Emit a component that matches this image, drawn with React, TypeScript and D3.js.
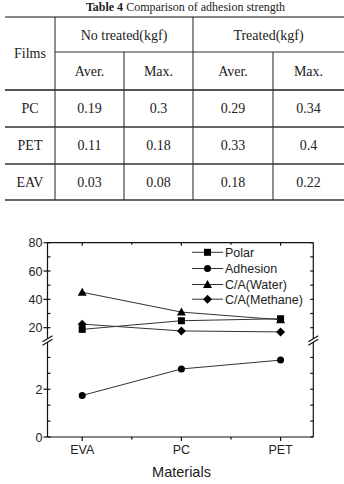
import React from 'react';
import * as d3 from 'd3';

// table data
const films = ['PC', 'PET', 'EAV'];
const groups = ['No treated(kgf)', 'Treated(kgf)'];
const subHeads = ['Aver.', 'Max.', 'Aver.', 'Max.'];
const tableValues = [
  ['0.19', '0.3', '0.29', '0.34'],
  ['0.11', '0.18', '0.33', '0.4'],
  ['0.03', '0.08', '0.18', '0.22'],
];

// chart data
const materials = ['EVA', 'PC', 'PET'];
const polar = [18.8, 24.9, 26.3];
const adhesion = [1.74, 2.85, 3.22];
const caWater = [45, 31, 25.6];
const caMethane = [22.5, 17.7, 17];
const upperTicks = [20, 40, 60, 80];
const lowerTicks = [0, 2];

const serif = '"Liberation Serif", "Times New Roman", serif';
const sans = '"Liberation Sans", Arial, sans-serif';
const lineCol = '#333';

function Marker({ type, x, y }: { type: string; x: number; y: number }) {
  if (type === 'square') return <rect x={x - 3.5} y={y - 3.5} width={7} height={7} fill="#000" />;
  if (type === 'circle') return <circle cx={x} cy={y} r={3.5} fill="#000" />;
  if (type === 'triangle') return <path d={`M${x},${y - 4.5}L${x + 4.5},${y + 3.5}L${x - 4.5},${y + 3.5}Z`} fill="#000" />;
  return <path d={`M${x},${y - 4.5}L${x + 4.5},${y}L${x},${y + 4.5}L${x - 4.5},${y}Z`} fill="#000" />;
}

function Table() {
  const colX = [5, 55, 124, 193, 273, 344];
  const rowY = [17, 52, 90, 127, 164, 200];
  const fs = 14;
  const cx = (i: number) => (colX[i] + colX[i + 1]) / 2;
  return (
    <g fontFamily={serif} fontSize={fs} fill="#222">
      <text x={185.5} y={11} fontSize={12} textAnchor="middle">
        <tspan fontWeight="bold">Table 4</tspan> Comparison of adhesion strength
      </text>
      <line x1={5} x2={344} y1={rowY[0]} y2={rowY[0]} stroke="#888" strokeWidth={2} />
      <line x1={colX[1]} x2={344} y1={rowY[1]} y2={rowY[1]} stroke={lineCol} strokeWidth={1.2} />
      {rowY.slice(2).map((y, i) => (
        <line key={i} x1={5} x2={344} y1={y} y2={y} stroke={i === 0 ? '#555' : lineCol} strokeWidth={i === 0 ? 1.8 : 1.4} />
      ))}
      {[1, 3].map(i => (
        <line key={i} x1={colX[i]} x2={colX[i]} y1={rowY[0]} y2={rowY[5]} stroke={lineCol} strokeWidth={1.1} />
      ))}
      {[2, 4].map(i => (
        <line key={i} x1={colX[i]} x2={colX[i]} y1={rowY[1]} y2={rowY[5]} stroke={lineCol} strokeWidth={1.1} />
      ))}
      <text x={cx(0)} y={(rowY[0] + rowY[2]) / 2} dy="0.35em" textAnchor="middle">Films</text>
      {groups.map((g, i) => (
        <text key={g} x={(colX[1 + i * 2] + colX[3 + i * 2]) / 2} y={(rowY[0] + rowY[1]) / 2 + 1} dy="0.35em" textAnchor="middle">{g}</text>
      ))}
      {subHeads.map((s, i) => (
        <text key={i} x={cx(i + 1)} y={(rowY[1] + rowY[2]) / 2} dy="0.35em" textAnchor="middle">{s}</text>
      ))}
      {films.map((f, r) => (
        <g key={f}>
          <text x={cx(0)} y={(rowY[r + 2] + rowY[r + 3]) / 2} dy="0.35em" textAnchor="middle">{f}</text>
          {tableValues[r].map((v, c) => (
            <text key={c} x={cx(c + 1)} y={(rowY[r + 2] + rowY[r + 3]) / 2} dy="0.35em" textAnchor="middle">{v}</text>
          ))}
        </g>
      ))}
    </g>
  );
}

function Chart() {
  const left = 47.5, right = 313.3;
  const x = d3.scaleLinear().domain([-0.35, 2.33]).range([left, right]);
  const yU = d3.scaleLinear().domain([12, 80]).range([339, 242.7]);
  const yL = d3.scaleLinear().domain([0, 4]).range([437, 341.5]);
  const line = d3.line<number>();

  const upperSeries = [
    { name: 'Polar', vals: polar, marker: 'square' },
    { name: 'C/A(Water)', vals: caWater, marker: 'triangle' },
    { name: 'C/A(Methane)', vals: caMethane, marker: 'diamond' },
  ];
  const legend = [
    { name: 'Polar', marker: 'square' },
    { name: 'Adhesion', marker: 'circle' },
    { name: 'C/A(Water)', marker: 'triangle' },
    { name: 'C/A(Methane)', marker: 'diamond' },
  ];
  const upperMinor = d3.range(20, 81, 10);
  const lowerMinor = d3.range(0, 6).map(k => (k * 2) / 3);
  const xMinor = d3.range(0, 5).map(k => k / 2);
  const breakY = 340.3;

  return (
    <g fontFamily={sans} fill="#222">
      {/* series */}
      {upperSeries.map(s => (
        <g key={s.name}>
          <path d={line(s.vals.map((v, i) => [x(i), yU(v)]) as any) || ''} fill="none" stroke={lineCol} strokeWidth={1} />
          {s.vals.map((v, i) => <Marker key={i} type={s.marker} x={x(i)} y={yU(v)} />)}
        </g>
      ))}
      <path d={line(adhesion.map((v, i) => [x(i), yL(v)]) as any) || ''} fill="none" stroke={lineCol} strokeWidth={1} />
      {adhesion.map((v, i) => <Marker key={i} type="circle" x={x(i)} y={yL(v)} />)}

      {/* frame */}
      <g stroke="#111" strokeWidth={1.2} fill="none">
        <line x1={left} x2={right} y1={yU(80)} y2={yU(80)} />
        <line x1={left} x2={right} y1={yL(0)} y2={yL(0)} />
        <line x1={left} x2={left} y1={yU(80)} y2={yU.range()[0]} />
        <line x1={right} x2={right} y1={yU(80)} y2={yU.range()[0]} />
        <line x1={left} x2={left} y1={yL(4)} y2={yL(0)} />
        <line x1={right} x2={right} y1={yL(4)} y2={yL(0)} />
        {upperMinor.map(v => (
          <g key={v}>
            <line x1={left} x2={left + 3} y1={yU(v)} y2={yU(v)} />
            <line x1={right - 3} x2={right} y1={yU(v)} y2={yU(v)} />
          </g>
        ))}
        {upperTicks.map(v => <line key={v} x1={left - 4} x2={left} y1={yU(v)} y2={yU(v)} />)}
        {lowerMinor.map(v => (
          <g key={v}>
            <line x1={left} x2={left + 3} y1={yL(v)} y2={yL(v)} />
            <line x1={right - 3} x2={right} y1={yL(v)} y2={yL(v)} />
          </g>
        ))}
        {lowerTicks.map(v => <line key={v} x1={left - 4} x2={left} y1={yL(v)} y2={yL(v)} />)}
        {xMinor.map(v => (
          <g key={v}>
            <line x1={x(v)} x2={x(v)} y1={yL(0)} y2={yL(0) + (v % 1 === 0 ? 4 : 2.5)} />
            <line x1={x(v)} x2={x(v)} y1={yU(80)} y2={yU(80) + (v % 1 === 0 ? 3 : 2)} />
          </g>
        ))}
      </g>

      {/* axis breaks */}
      {[left, right].map(ax => (
        <g key={ax}>
          <path d={`M${ax - 5},${breakY + 1.5}L${ax + 5},${breakY - 4.5}L${ax + 5},${breakY - 1}L${ax - 5},${breakY + 5}Z`} fill="#fff" />
          <line x1={ax - 5} x2={ax + 5} y1={breakY + 1.5} y2={breakY - 4.5} stroke="#111" strokeWidth={1.1} />
          <line x1={ax - 5} x2={ax + 5} y1={breakY + 5} y2={breakY - 1} stroke="#111" strokeWidth={1.1} />
        </g>
      ))}

      {/* tick labels */}
      <g fontSize={12.5} textAnchor="end">
        {upperTicks.map(v => <text key={v} x={left - 5} y={yU(v)} dy="0.36em">{v}</text>)}
        {lowerTicks.map(v => <text key={v} x={left - 5} y={yL(v)} dy="0.36em">{v}</text>)}
      </g>
      <g fontSize={12.5} textAnchor="middle">
        {materials.map((m, i) => <text key={m} x={x(i)} y={454}>{m}</text>)}
      </g>
      <text x={181.5} y={477} fontSize={14.5} textAnchor="middle">Materials</text>

      {/* legend */}
      {legend.map((l, i) => {
        const ly = [252.3, 268.5, 284.5, 299.2][i];
        return (
          <g key={l.name}>
            <line x1={192} x2={223} y1={ly} y2={ly} stroke={lineCol} strokeWidth={1} />
            <Marker type={l.marker} x={207.5} y={ly} />
            <text x={225} y={ly} dy="0.36em" fontSize={12.5}>{l.name}</text>
          </g>
        );
      })}
    </g>
  );
}

export default function App() {
  return (
    <svg width={344} height={484} style={{ position: 'absolute', left: 0, top: 0, background: '#fff' }}>
      <rect width={344} height={484} fill="#fff" />
      <Table />
      <Chart />
    </svg>
  );
}
